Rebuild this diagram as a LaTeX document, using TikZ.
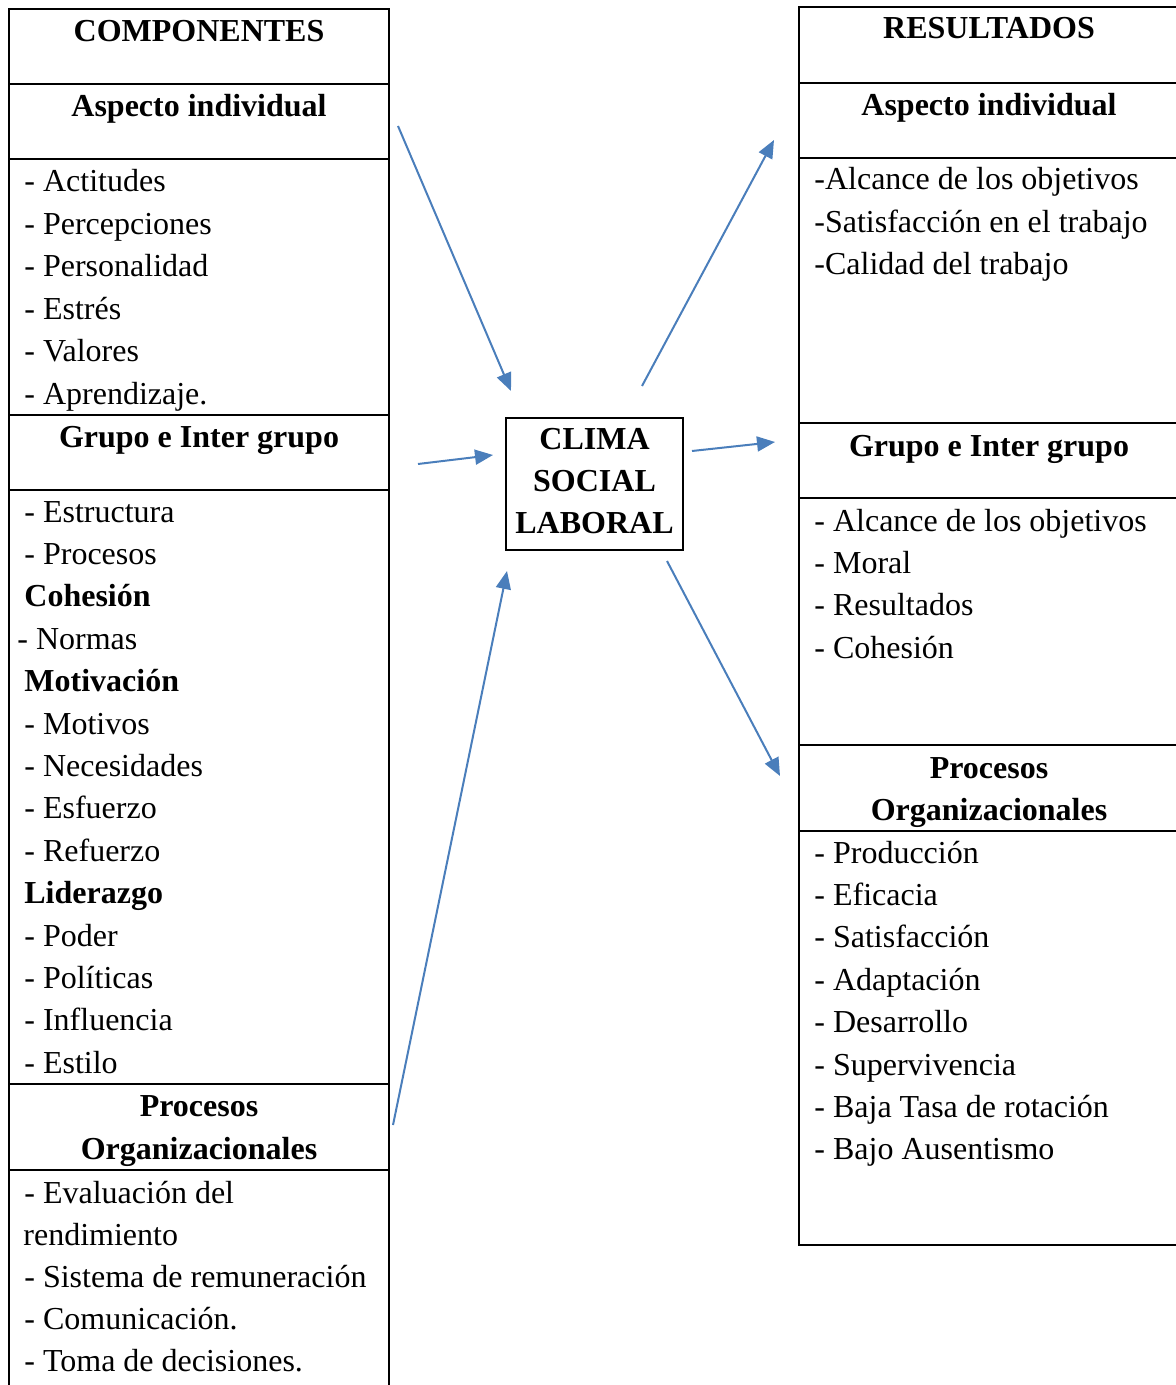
\documentclass[tikz,border=0pt]{standalone}
\usepackage{fontspec}
\setmainfont{Liberation Serif}
\usetikzlibrary{arrows.meta}
\definecolor{azul}{RGB}{74,126,187}

\begin{document}
\begin{tikzpicture}[x=0.5pt,y=-0.5pt,
  font=\fontsize{16}{21.2}\selectfont,
  lista/.style={anchor=base west,inner sep=0pt},
  titulo/.style={anchor=base,inner sep=0pt,font=\fontsize{16}{21.2}\selectfont\bfseries},
  flecha/.style={draw=azul,line width=1pt,-{Triangle[length=9pt,width=7.5pt]}}]
  \useasboundingbox (0,0) rectangle (1176,1385);
  \clip (0,0) rectangle (1176,1385);
  % tabla izquierda
  \draw[line width=1pt] (9,1390)--(9,9)--(389,9)--(389,1390);
  \foreach \y in {84,159,415,490,1084,1170}
    \draw[line width=1pt] (9,\y)--(389,\y);
  \node[titulo] (comp) at (199,42) {COMPONENTES};
  \node[titulo] (indL) at (199,117) {Aspecto individual};
  \foreach \t [count=\i] in {Actitudes,Percepciones,Personalidad,Estrés,Valores,Aprendizaje.}
    \node[lista] (li\i) at (24,{192+42.4*(\i-1)}) {- \t};
  \node[titulo] (grpL) at (199,447) {Grupo e Inter grupo};
  \foreach \x/\t [count=\i] in {24/- Estructura,24/- Procesos,24/\textbf{Cohesión},17/- Normas,
      24/\textbf{Motivación},24/- Motivos,24/- Necesidades,24/- Esfuerzo,24/- Refuerzo,
      24/\textbf{Liderazgo},24/- Poder,24/- Políticas,24/- Influencia,24/- Estilo}
    \node[lista] (lg\i) at (\x,{522+42.4*(\i-1)}) {\t};
  \node[titulo] (proL) at (199,1116) {Procesos};
  \node[titulo] (orgL) at (199,1159) {Organizacionales};
  \foreach \x/\t [count=\i] in {24/- Evaluación del,23/rendimiento,24/- Sistema de remuneración,
      24/- Comunicación.,24/- Toma de decisiones.}
    \node[lista] (lp\i) at (\x,{1203+42.2*(\i-1)}) {\t};
  % tabla derecha
  \draw[line width=1pt] (1180,7)--(799,7)--(799,1245)--(1180,1245);
  \foreach \y in {83,158,423,498,745,831}
    \draw[line width=1pt] (799,\y)--(1180,\y);
  \node[titulo] (res) at (989,39) {RESULTADOS};
  \node[titulo] (indR) at (989,116) {Aspecto individual};
  \foreach \t [count=\i] in {-Alcance de los objetivos,-Satisfacción en el trabajo,-Calidad del trabajo}
    \node[lista] (ri\i) at (814,{190+42.4*(\i-1)}) {\t};
  \node[titulo] (grpR) at (989,456) {Grupo e Inter grupo};
  \foreach \t [count=\i] in {Alcance de los objetivos,Moral,Resultados,Cohesión}
    \node[lista] (rg\i) at (814,{531+42.4*(\i-1)}) {- \t};
  \node[titulo] (proR) at (989,778) {Procesos};
  \node[titulo] (orgR) at (989,820) {Organizacionales};
  \foreach \t [count=\i] in {Producción,Eficacia,Satisfacción,Adaptación,Desarrollo,
      Supervivencia,Baja Tasa de rotación,Bajo Ausentismo}
    \node[lista] (rp\i) at (814,{863+42.4*(\i-1)}) {- \t};
  % centro
  \draw[line width=1pt] (506,418) rectangle (683,550);
  \node[inner sep=0pt,align=center,font=\fontsize{16}{21.2}\selectfont\bfseries]
    (clima) at (594.5,481) {CLIMA\\SOCIAL\\LABORAL};
  % flechas
  \coordinate (e1) at (398,126);  \coordinate (f1) at (511,391);
  \coordinate (e2) at (642,386);  \coordinate (f2) at (774,140);
  \coordinate (e3) at (418,464);  \coordinate (f3) at (493,455);
  \coordinate (e4) at (692,451);  \coordinate (f4) at (775,442);
  \coordinate (e5) at (667,561);  \coordinate (f5) at (780,776);
  \coordinate (e6) at (393,1125); \coordinate (f6) at (507,571);
  \foreach \i in {1,...,6}
    \draw[flecha] (e\i)--(f\i);
\end{tikzpicture}
\end{document}
